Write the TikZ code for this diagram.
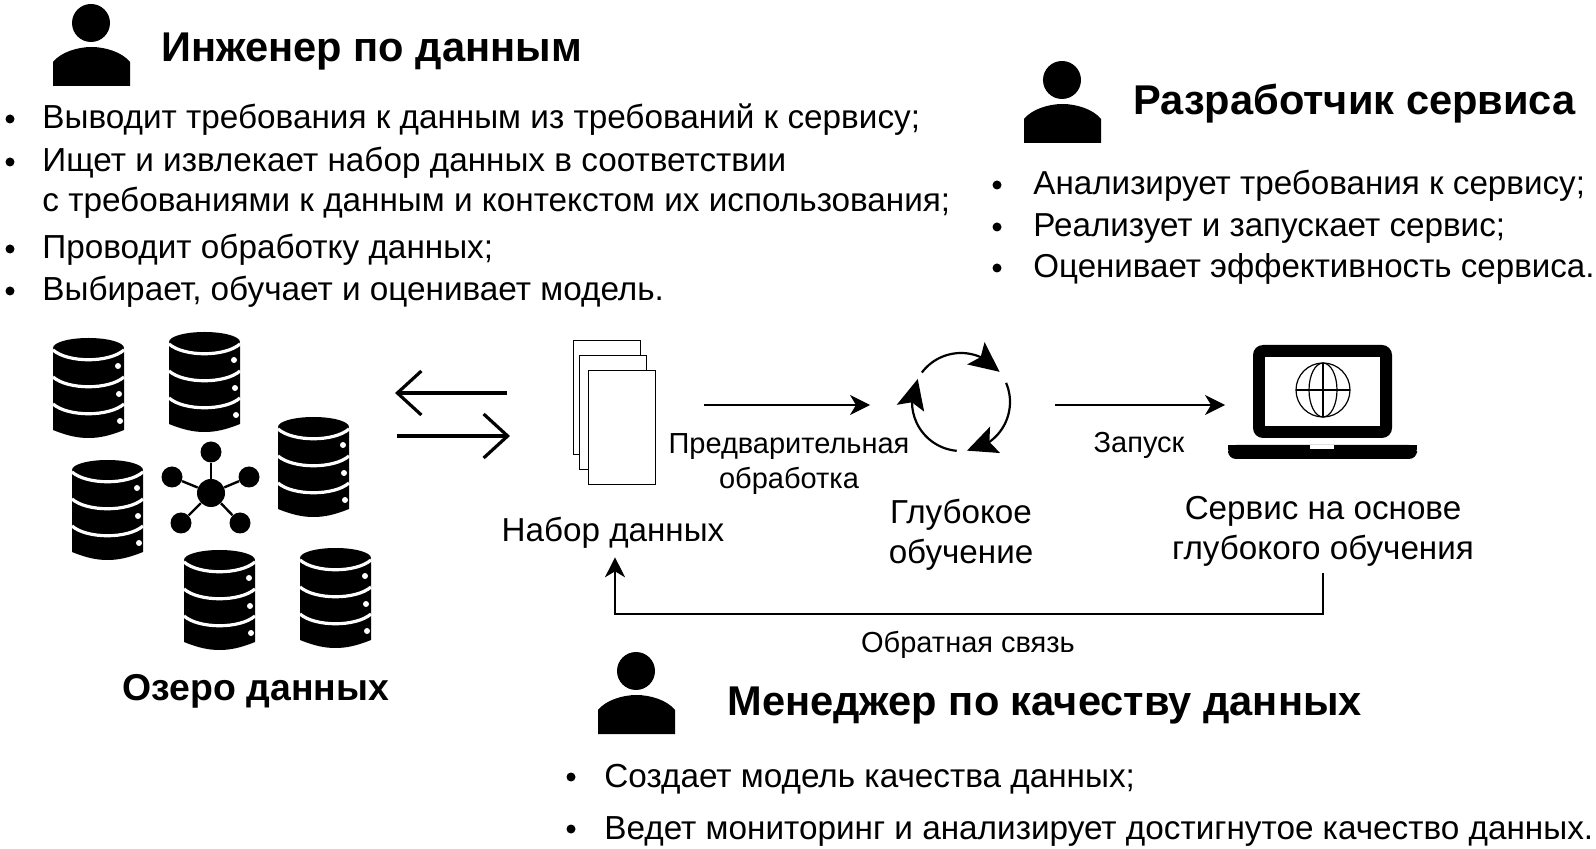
\documentclass[tikz,border=0pt]{standalone}
\usepackage{fontspec}
\setmainfont{Liberation Sans}
\usetikzlibrary{arrows.meta, bending}

\tikzset{
  person/.pic={
    \fill (38,19) circle[radius=19];
    \fill (0,82) -- (0,58) .. controls (8,48) and (25,43) .. (38.5,43)
      .. controls (52,43) and (69,48) .. (77,58) -- (77,82) -- cycle;
  },
  dbase/.pic={
    \fill (35.5,10) ellipse[x radius=35.5,y radius=10];
    \fill (0,12) -- (0,92) .. controls (15,98) and (25,100) .. (35.5,100)
      .. controls (46,100) and (56,98) .. (71,92) -- (71,12) -- cycle;
    \draw[white,line width=1.6pt] (0,12) .. controls (15,25) and (56,25) .. (71,12);
    \draw[white,line width=1.6pt] (0,39) .. controls (15,52) and (56,52) .. (71,39);
    \draw[white,line width=1.6pt] (0,66) .. controls (15,79) and (56,79) .. (71,66);
    \fill[white] (65,28) circle[radius=3];
    \fill[white] (66,56) circle[radius=3];
    \fill[white] (67,83) circle[radius=3];
  },
}

\begin{document}
\begin{tikzpicture}[x=0.5pt,y=-0.5pt,>=Stealth,
    body/.style={font=\fontsize{16.65}{20}\selectfont,inner sep=0pt,anchor=base west},
    title/.style={font=\fontsize{20.8}{24}\selectfont\bfseries,inner sep=0pt,anchor=base west},
    caption/.style={font=\fontsize{16.6}{20.2}\selectfont,inner sep=0pt,anchor=base,align=center},
    small/.style={font=\fontsize{14.5}{17.5}\selectfont,inner sep=0pt,anchor=base,align=center},
    bul/.style={circle,fill=black,inner sep=0pt,minimum size=4.5pt},
    sheet/.style={draw,fill=white,line width=0.65pt,minimum width=33.5pt,minimum height=57pt,inner sep=0pt,anchor=north west},
    spoke/.style={circle,fill=black,inner sep=0pt,minimum size=10.5pt},
    thin flow/.style={->,line width=0.75pt,>={Stealth[length=10pt,width=10pt,inset=3pt]}},
    big flow/.style={line width=1.6pt,>={Straight Barb[length=12pt,width=22pt]}},
    cyc/.style={->,line width=1.1pt,>={Stealth[length=15pt,width=14pt,inset=3pt,flex]}}]
  \useasboundingbox (0,0) rectangle (1596,849);

  % data engineer
  \pic at (53,4) {person};
  \node[title] (eng) at (161,62) {Инженер по данным};
  \node[bul] (b1) at (10,119) {};
  \node[body] (e1) at (42,129) {Выводит требования к данным из требований к сервису;};
  \node[bul] (b2) at (10,162) {};
  \node[body] (e2) at (42,172) {Ищет и извлекает набор данных в соответствии};
  \node[body] (e3) at (42,212) {с требованиями к данным и контекстом их использования;};
  \node[bul] (b3) at (10,249) {};
  \node[body] (e4) at (42,259) {Проводит обработку данных;};
  \node[bul] (b4) at (10,291) {};
  \node[body] (e5) at (42,301) {Выбирает, обучает и оценивает модель.};

  % service developer
  \pic at (1024,61) {person};
  \node[title] (dev) at (1133,115) {Разработчик сервиса};
  \node[bul] (b5) at (997,185) {};
  \node[body,font=\fontsize{16.6}{20}\selectfont] (d1) at (1033,195) {Анализирует требования к сервису;};
  \node[bul] (b6) at (997,227) {};
  \node[body,font=\fontsize{16.6}{20}\selectfont] (d2) at (1033,237) {Реализует и запускает сервис;};
  \node[bul] (b7) at (997,268) {};
  \node[body,font=\fontsize{16.55}{20}\selectfont] (d3) at (1033,278) {Оценивает эффективность сервиса.};

  % data lake
  \pic at (53,338) {dbase};
  \pic at (169,332) {dbase};
  \pic at (278,417) {dbase};
  \pic at (72,460) {dbase};
  \pic at (184,550) {dbase};
  \pic at (300,548) {dbase};
  \node[circle,fill=black,inner sep=0pt,minimum size=14pt] (hub) at (211,493) {};
  \node[spoke] (s1) at (211,452) {};
  \node[spoke] (s2) at (172,477) {};
  \node[spoke] (s3) at (249,477) {};
  \node[spoke] (s4) at (181,523) {};
  \node[spoke] (s5) at (240,523) {};
  \draw[line width=1.2pt] (hub)--(s1);
  \draw[line width=1.2pt] (hub)--(s2);
  \draw[line width=1.2pt] (hub)--(s3);
  \draw[line width=1.2pt] (hub)--(s4);
  \draw[line width=1.2pt] (hub)--(s5);
  \node[title,anchor=base,font=\fontsize{18.7}{22}\selectfont\bfseries] (lake) at (256,701) {Озеро данных};

  \coordinate (la) at (507,393);
  \coordinate (lb) at (395,393);
  \coordinate (ra) at (397,436);
  \coordinate (rb) at (510,436);
  \draw[big flow,->] (la)--(lb);
  \draw[big flow,->] (ra)--(rb);

  % dataset
  \node[sheet] (p1) at (573,340) {};
  \node[sheet] (p2) at (579,355) {};
  \node[sheet] (p3) at (588,370) {};
  \node[caption] (ds) at (613,542) {Набор данных};

  \coordinate (pa) at (704,405);
  \coordinate (pb) at (870,405);
  \draw[thin flow] (pa)--(pb);
  \node[small] (prep) at (789,489) {Предварительная\\обработка};

  % training loop
  \coordinate (dl) at (961,402);
  \draw[cyc] ([shift={(-143:49)}]dl) arc[start angle=-143,end angle=-38,radius=49];
  \draw[cyc] ([shift={(-23:49)}]dl) arc[start angle=-23,end angle=83,radius=49];
  \draw[cyc] ([shift={(95:49)}]dl) arc[start angle=95,end angle=208,radius=49];
  \node[caption] (train) at (961,564) {Глубокое\\обучение};

  \coordinate (ga) at (1055,405);
  \coordinate (gb) at (1225,405);
  \draw[thin flow] (ga)--(gb);
  \node[small] (run) at (1139,453) {Запуск};

  % laptop
  \fill[rounded corners=5pt] (1253,438) -- (1253,345) -- (1392,345) -- (1392,438) -- cycle;
  \fill[white] (1265,357) rectangle (1380,426);
  \fill[rounded corners=4pt] (1228,445) -- (1228,459) -- (1417,459) -- (1417,445) -- cycle;
  \fill (1228,445) rectangle (1417,450);
  \fill[white] (1310,445) rectangle (1334,449);
  \draw[line width=0.6pt] (1323,390) circle[radius=27];
  \draw[line width=0.6pt] (1323,390) ellipse[x radius=14,y radius=27];
  \draw[line width=0.6pt] (1323,363)--(1323,417);
  \draw[line width=0.6pt] (1296,390)--(1350,390);
  \node[caption] (svc) at (1323,560) {Сервис на основе\\глубокого обучения};

  % feedback
  \coordinate (fb) at (615,614);
  \draw[thin flow] ([yshift=-3pt]svc.south) |- (fb) -- ([xshift=1pt,yshift=-4pt]ds.south);
  \node[small] (fbk) at (968,653) {Обратная связь};

  % quality manager
  \pic at (598,652) {person};
  \node[title] (mgr) at (727,715) {Менеджер по качеству данных};
  \node[bul] (b8) at (571,777) {};
  \node[body] (m1) at (604,787) {Создает модель качества данных;};
  \node[bul] (b9) at (571,829) {};
  \node[body] (m2) at (604,839) {Ведет мониторинг и анализирует достигнутое качество данных.};
\end{tikzpicture}
\end{document}
